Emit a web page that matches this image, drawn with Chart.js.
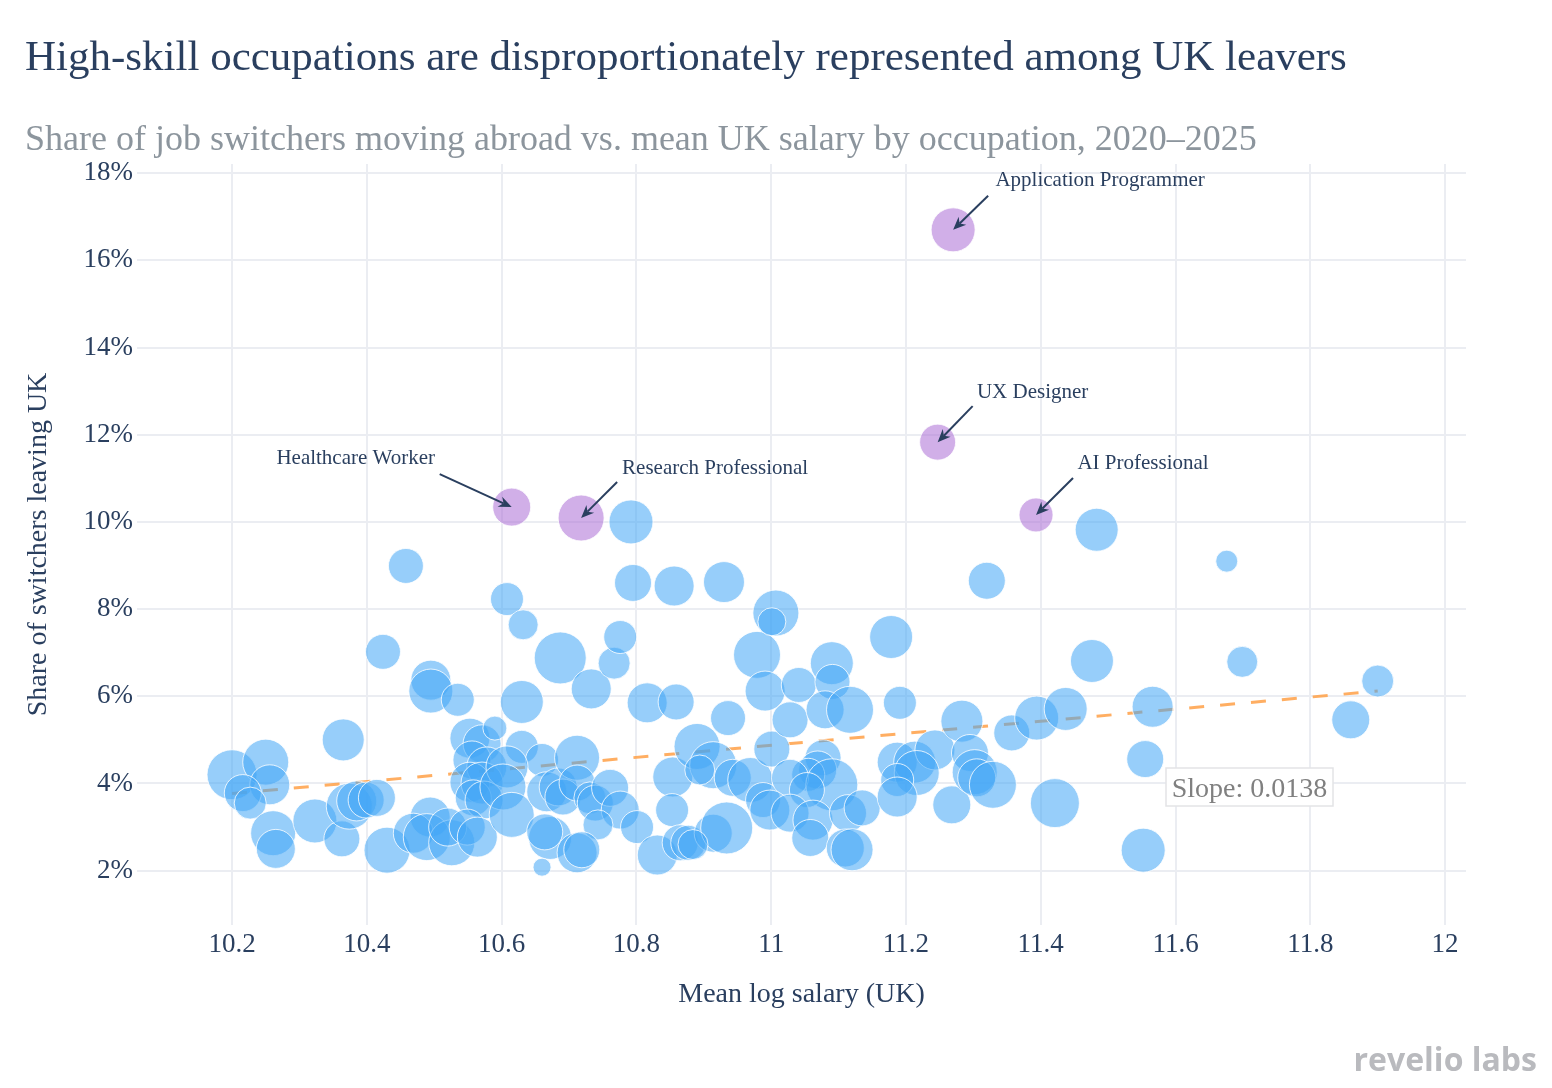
<!DOCTYPE html>
<html>
<head>
<meta charset="utf-8">
<script src="https://cdn.jsdelivr.net/npm/chart.js@4.4.1/dist/chart.umd.min.js"></script>
<style>
  html, body { margin: 0; padding: 0; background: #fff; }
  canvas { display: block; }
</style>
</head>
<body>
<canvas id="chart" width="1552" height="1088"></canvas>
<script>
// --- DATA ---
// Occupations sin etiqueta (x = mean log salary, y = % leaving UK, size = bubble size)
const blueX = [
  10.200, 10.250, 10.256, 10.216, 10.227, 10.261, 10.265,
  10.323, 10.365, 10.363, 10.374, 10.385, 10.399, 10.415, 10.430, 10.424, 10.458,
  10.495, 10.495, 10.535, 10.553, 10.571, 10.590, 10.556, 10.578, 10.553, 10.571,
  10.558, 10.574, 10.494, 10.469, 10.489, 10.526, 10.520, 10.549, 10.564,
  10.608, 10.632, 10.630, 10.630, 10.660, 10.608, 10.602, 10.615, 10.667, 10.684,
  10.691, 10.672, 10.664, 10.660, 10.687,
  10.712, 10.712, 10.731, 10.739, 10.761, 10.776, 10.743, 10.712, 10.719, 10.733,
  10.767, 10.776, 10.792, 10.795, 10.801, 10.816,
  10.856, 10.859, 10.854, 10.853, 10.831, 10.865, 10.877, 10.890, 10.914, 10.894,
  10.943, 10.969, 10.914, 10.934, 10.930, 10.936, 10.979, 10.991, 10.988, 11.001, 10.884,
  11.007, 11.001, 11.028, 11.041, 11.090, 11.091, 11.080, 11.117, 11.077, 11.069,
  11.055, 11.028, 11.090, 11.053, 10.998, 11.028, 11.062, 11.058, 11.114, 11.135,
  11.110, 11.120,
  11.178, 11.191, 11.187, 11.213, 11.243, 11.216, 11.187, 11.187, 11.268, 11.283,
  11.295, 11.302, 11.305, 11.329, 11.320,
  11.357, 11.394, 11.437, 11.476, 11.483, 11.421, 11.566, 11.555, 11.552,
  11.676, 11.699, 11.860, 11.900
];
const blueY = [
  4.20, 4.49, 3.97, 3.78, 3.55, 2.86, 2.50,
  3.14, 5.00, 2.73, 3.48, 3.60, 3.62, 3.67, 2.47, 7.02, 8.99,
  6.37, 6.12, 5.92, 5.04, 4.91, 5.27, 4.54, 4.38, 4.03, 4.01,
  3.67, 3.62, 3.23, 2.86, 2.77, 2.64, 3.00, 3.00, 2.77,
  8.23, 7.64, 5.87, 4.84, 4.54, 4.38, 3.92, 3.28, 3.81, 3.92,
  3.69, 2.75, 2.89, 2.08, 6.88,
  4.59, 4.01, 3.67, 3.55, 3.90, 3.39, 3.05, 2.41, 2.48, 6.17,
  6.76, 7.36, 10.00, 8.60, 3.00, 5.85,
  8.53, 5.87, 4.15, 3.39, 2.36, 2.64, 2.64, 4.85, 4.42, 4.31,
  4.13, 4.08, 2.86, 2.98, 8.62, 5.50, 6.95, 6.12, 3.62, 4.79, 2.60,
  7.91, 7.71, 5.46, 6.26, 6.76, 6.33, 5.69, 5.69, 4.59, 4.31,
  4.20, 4.13, 3.97, 3.85, 3.39, 3.32, 3.16, 2.75, 3.32, 3.44,
  2.52, 2.48,
  7.36, 5.85, 4.49, 4.49, 4.77, 4.24, 4.08, 3.69, 3.51, 5.43,
  4.70, 4.26, 4.13, 3.97, 8.65,
  5.16, 5.50, 5.71, 6.81, 9.82, 3.55, 5.76, 4.56, 2.47,
  9.10, 6.79, 5.46, 6.35
];
const blueSize = [
  50, 46, 40, 37, 32, 45, 39,
  44, 42, 36, 46, 40, 36, 37, 46, 35, 35,
  40, 44, 33, 40, 38, 24, 38, 40, 40, 42,
  36, 38, 40, 40, 47, 46, 38, 36, 40,
  33, 30, 43, 33, 33, 42, 46, 45, 40, 38,
  36, 43, 36, 18, 52,
  45, 36, 32, 36, 37, 38, 30, 40, 36, 40,
  32, 33, 44, 37, 33, 40,
  40, 36, 40, 33, 40, 36, 35, 46, 47, 30,
  37, 45, 38, 52, 41, 35, 47, 40, 35, 36, 30,
  46, 28, 36, 35, 43, 35, 38, 47, 36, 38,
  33, 37, 52, 35, 40, 38, 40, 37, 37, 36,
  38, 42,
  43, 33, 40, 42, 40, 45, 33, 40, 38, 42,
  37, 45, 38, 47, 37,
  36, 44, 43, 43, 43, 49, 41, 37, 44,
  22, 31, 38, 32
];

// Occupations destacadas
const highlightLabels = ['Application Programmer', 'UX Designer', 'AI Professional', 'Research Professional', 'Healthcare Worker'];
const highlightX = [11.270, 11.247, 11.393, 10.718, 10.615];
const highlightY = [16.70, 11.83, 10.16, 10.09, 10.34];
const highlightSize = [44, 36, 34, 46, 38];

// Línea de tendencia (extremos)
const trendX = [10.20, 11.90];
const trendY = [3.77, 6.12];
const slopeText = 'Slope: 0.0138';

const xTicks = [10.2, 10.4, 10.6, 10.8, 11, 11.2, 11.4, 11.6, 11.8, 12];
const yTicks = [2, 4, 6, 8, 10, 12, 14, 16, 18];

const titleText = 'High-skill occupations are disproportionately represented among UK leavers';
const subtitleText = 'Share of job switchers moving abroad vs. mean UK salary by occupation, 2020–2025';
const xTitle = 'Mean log salary (UK)';
const yTitle = 'Share of switchers leaving UK';

// --- STYLE ---
const FONT = '"Liberation Serif", "Times New Roman", serif';
const NAVY = '#2a3f5f';
const GRID = '#ebedf2';

// desplazamientos de las flechas (tail) y textos respecto al punto, en px
const calloutOffsets = [
  { ax: 35, ay: -34, tx: 147, ty: -49 },
  { ax: 35, ay: -36, tx: 95, ty: -50 },
  { ax: 37, ay: -37, tx: 107, ty: -51 },
  { ax: 36, ay: -36, tx: 134, ty: -50 },
  { ax: -72, ay: -33, tx: -156, ty: -49 }
];

function drawArrow(ctx, x0, y0, x1, y1) {
  const ang = Math.atan2(y1 - y0, x1 - x0);
  const len = 13, half = 5.5, notch = 4;
  const bx = x1 - Math.cos(ang) * len, by = y1 - Math.sin(ang) * len;
  ctx.beginPath();
  ctx.moveTo(x0, y0);
  ctx.lineTo(x1 - Math.cos(ang) * (len - notch), y1 - Math.sin(ang) * (len - notch));
  ctx.stroke();
  ctx.beginPath();
  ctx.moveTo(x1, y1);
  ctx.lineTo(bx + Math.sin(ang) * half, by - Math.cos(ang) * half);
  ctx.lineTo(x1 - Math.cos(ang) * (len - notch), y1 - Math.sin(ang) * (len - notch));
  ctx.lineTo(bx - Math.sin(ang) * half, by + Math.cos(ang) * half);
  ctx.closePath();
  ctx.fill();
}

const overlay = {
  id: 'overlay',
  afterDraw(chart) {
    const ctx = chart.ctx;
    const xs = chart.scales.x, ys = chart.scales.y;
    const area = chart.chartArea;
    ctx.save();

    // titulos
    ctx.textAlign = 'left';
    ctx.textBaseline = 'alphabetic';
    ctx.fillStyle = NAVY;
    ctx.font = `43px ${FONT}`;
    ctx.fillText(titleText, 25, 70);
    ctx.fillStyle = '#8c959d';
    ctx.font = `36px ${FONT}`;
    ctx.fillText(subtitleText, 25, 150);

    // titulos de ejes
    ctx.fillStyle = NAVY;
    ctx.font = `28px ${FONT}`;
    ctx.textAlign = 'center';
    ctx.fillText(xTitle, (area.left + area.right) / 2, 1002);
    ctx.save();
    ctx.translate(46, (area.top + area.bottom) / 2);
    ctx.rotate(-Math.PI / 2);
    ctx.fillText(yTitle, 0, 0);
    ctx.restore();

    // anotaciones con flecha
    ctx.strokeStyle = NAVY;
    ctx.fillStyle = NAVY;
    ctx.lineWidth = 2;
    ctx.font = `21px ${FONT}`;
    ctx.textBaseline = 'middle';
    highlightLabels.forEach((label, i) => {
      const px = xs.getPixelForValue(highlightX[i]);
      const py = ys.getPixelForValue(highlightY[i]);
      const o = calloutOffsets[i];
      drawArrow(ctx, px + o.ax, py + o.ay, px, py);
      ctx.fillText(label, px + o.tx, py + o.ty);
    });

    // caja de pendiente
    ctx.fillStyle = '#ffffff';
    ctx.strokeStyle = '#e3e4e6';
    ctx.lineWidth = 1.5;
    ctx.fillRect(1166, 768, 167, 38);
    ctx.strokeRect(1166, 768, 167, 38);
    ctx.fillStyle = '#808080';
    ctx.font = `28px ${FONT}`;
    ctx.textAlign = 'center';
    ctx.textBaseline = 'alphabetic';
    ctx.fillText(slopeText, 1249.5, 797);

    // logo
    ctx.fillStyle = '#b9babe';
    ctx.font = 'bold 32px "Open Sans", sans-serif';
    ctx.textAlign = 'right';
    ctx.fillText('revelio labs', 1537, 1071);
    ctx.restore();
  }
};

new Chart(document.getElementById('chart'), {
  type: 'bubble',
  data: {
    datasets: [
      {
        label: 'Highlighted',
        data: highlightX.map((x, i) => ({ x: x, y: highlightY[i], r: highlightSize[i] / 2 })),
        backgroundColor: 'rgba(171, 110, 214, 0.55)',
        borderColor: 'rgba(255, 255, 255, 0.8)',
        borderWidth: 1,
        order: 0
      },
      {
        label: 'Occupations',
        data: blueX.map((x, i) => ({ x: x, y: blueY[i], r: blueSize[i] / 2 })),
        backgroundColor: 'rgba(66, 165, 245, 0.55)',
        borderColor: 'rgba(255, 255, 255, 0.8)',
        borderWidth: 1,
        order: 1
      },
      {
        type: 'line',
        label: 'Trend',
        data: trendX.map((x, i) => ({ x: x, y: trendY[i] })),
        borderColor: 'rgba(255, 160, 70, 0.85)',
        borderWidth: 3,
        borderDash: [15, 16],
        pointRadius: 0,
        fill: false,
        order: 2
      }
    ]
  },
  options: {
    responsive: false,
    animation: false,
    devicePixelRatio: 1,
    clip: false,
    layout: { padding: { left: 0, top: 164, right: 86, bottom: 0 } },
    plugins: {
      legend: { display: false },
      tooltip: { enabled: false },
      title: { display: false }
    },
    scales: {
      x: {
        type: 'linear',
        min: 10.059,
        max: 12.031,
        afterFit: (s) => { s.height = 163; },
        afterBuildTicks: (s) => { s.ticks = xTicks.map(v => ({ value: v })); },
        grid: { color: GRID, lineWidth: 2, drawTicks: false },
        border: { display: false },
        ticks: {
          padding: 4,
          color: NAVY,
          font: { family: FONT, size: 27 },
          maxRotation: 0,
          autoSkip: false,
          callback: (v) => String(v)
        }
      },
      y: {
        type: 'linear',
        min: 0.754,
        max: 18.21,
        afterFit: (s) => { s.width = 137; },
        afterBuildTicks: (s) => { s.ticks = yTicks.map(v => ({ value: v })); },
        grid: { color: GRID, lineWidth: 2, drawTicks: false },
        border: { display: false },
        ticks: {
          padding: 4,
          color: NAVY,
          font: { family: FONT, size: 27 },
          autoSkip: false,
          callback: (v) => v + '%'
        }
      }
    }
  },
  plugins: [overlay]
});
</script>
</body>
</html>
